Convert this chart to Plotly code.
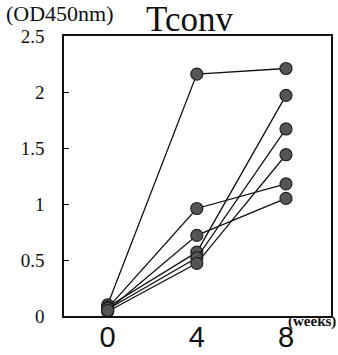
import plotly.graph_objects as go

weeks = [0, 4, 8]
series = [
    [0.10, 2.16, 2.21],
    [0.08, 0.57, 1.97],
    [0.06, 0.52, 1.67],
    [0.04, 0.47, 1.44],
    [0.07, 0.96, 1.18],
    [0.05, 0.72, 1.05],
]
y_ticks = [0, 0.5, 1, 1.5, 2, 2.5]
y_tick_text = ["0", "0.5", "1", "1.5", "2", "2.5"]
x_ticks = [0, 4, 8]
x_tick_text = ["0", "4", "8"]

fig = go.Figure()
for s in series:
    fig.add_trace(go.Scatter(
        x=weeks, y=s, mode="lines+markers",
        line=dict(color="#111111", width=1.3),
        marker=dict(size=12, color="#555555", line=dict(color="#222222", width=1.2)),
        showlegend=False, hoverinfo="skip"))

serif = "Liberation Serif, Times New Roman, serif"
fig.update_layout(
    width=338, height=355,
    margin=dict(l=64, r=7, t=36, b=39),
    paper_bgcolor="white", plot_bgcolor="white",
    xaxis=dict(range=[-1.96, 10.02], tickvals=x_ticks, ticktext=x_tick_text,
               showgrid=False, zeroline=False, showline=True, linecolor="#111111",
               linewidth=1.5, mirror=True, ticks="", ticklabelstandoff=-6, automargin=False,
               tickfont=dict(family="Liberation Sans, Arial, sans-serif",
                             size=29, color="#111111")),
    yaxis=dict(range=[0, 2.5], tickvals=y_ticks, ticktext=y_tick_text,
               showgrid=False, zeroline=False, showline=True, linecolor="#111111",
               linewidth=1.5, mirror=True, ticks="inside", ticklen=5, tickcolor="#111111",
               ticklabelstandoff=14, automargin=False,
               tickfont=dict(family=serif, size=19, color="#111111")),
    annotations=[
        dict(text="(OD450nm)", xref="paper", yref="paper", x=-0.225, y=1.08,
             xanchor="left", yanchor="middle", showarrow=False,
             font=dict(family=serif, size=22, color="#111111")),
        dict(text="Tconv", xref="paper", yref="paper", x=0.47, y=1.06,
             xanchor="center", yanchor="middle", showarrow=False,
             font=dict(family=serif, size=35, color="#111111")),
        dict(text="<b>(weeks)</b>", xref="paper", yref="paper", x=0.83, y=-0.02,
             xanchor="left", yanchor="middle", showarrow=False,
             font=dict(family=serif, size=15, color="#111111")),
    ],
)
fig.write_html("out.html")
